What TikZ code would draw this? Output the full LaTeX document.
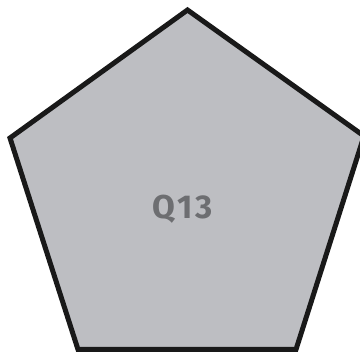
\documentclass[tikz,border=0pt]{standalone}
\usepackage{fontspec}
\setsansfont{Fira Sans}
\usepackage{xcolor}
\usepackage{tikz}
\usetikzlibrary{positioning}
\definecolor{pentafill}{HTML}{BDBEC2}
\definecolor{labelgray}{HTML}{6D6E71}
\tikzset{
  pentaline/.style={draw=black!90,line width=5pt,line join=miter,fill=pentafill},
  qlabel/.style={font=\sffamily\bfseries\fontsize{33}{36}\selectfont\addfontfeatures{LetterSpace=8},text=labelgray}
}

\begin{document}
\begin{tikzpicture}[x=1pt,y=1pt]
  \useasboundingbox (0,0) rectangle (360,354);
  \begin{scope}
    \clip (0,0) rectangle (360,354);
    \coordinate (top) at (187.5,344);
    \coordinate (left) at (10,216);
    \coordinate (right) at (364,218);
    \coordinate (bl) at (78,4.5);
    \coordinate (br) at (296,4.5);
    \draw[pentaline] (top) -- (right) -- (br) -- (bl) -- (left) -- cycle;
  \end{scope}
  \node[qlabel] (q) at (183,145) {Q13};
\end{tikzpicture}
\end{document}
